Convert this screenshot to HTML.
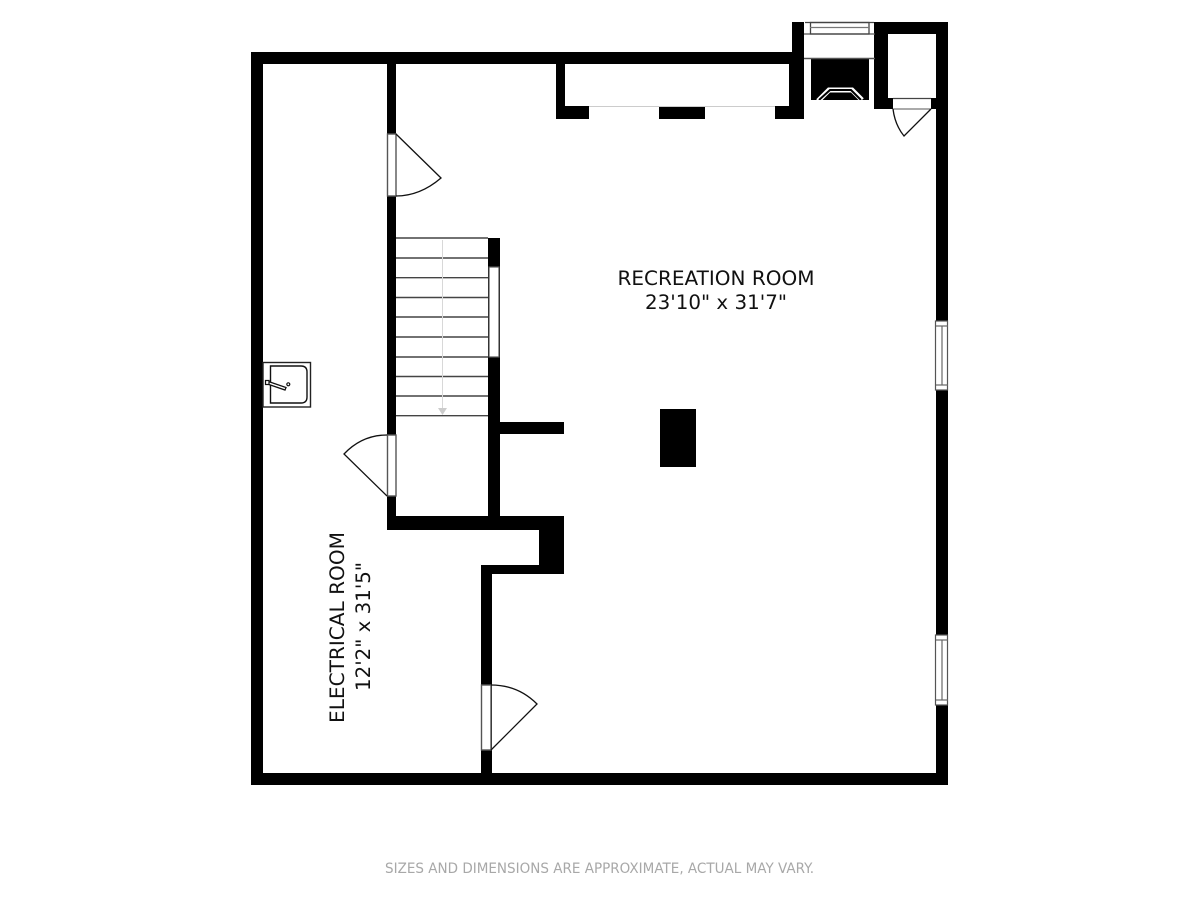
<!DOCTYPE html>
<html><head><meta charset="utf-8"><style>html,body{margin:0;padding:0;background:#fff}svg{display:block}text{font-family:"DejaVu Sans",sans-serif;fill:#111}</style></head><body>
<svg width="1200" height="900" viewBox="0 0 1200 900" xmlns="http://www.w3.org/2000/svg">
<rect width="1200" height="900" fill="#fff"/>
<!-- walls -->
<g fill="#000">
<rect x="251" y="52" width="12" height="733"/>
<rect x="251" y="773" width="697" height="12"/>
<rect x="251" y="52" width="553" height="12"/>
<rect x="936" y="22" width="12" height="763"/>
<rect x="792" y="22" width="12" height="40"/>
<rect x="874" y="22" width="74" height="12"/>
<rect x="874" y="22" width="14" height="87"/>
<rect x="888" y="98" width="5" height="11"/>
<rect x="931" y="98" width="17" height="11"/>
<rect x="789" y="52" width="15" height="67"/>
<rect x="556" y="52" width="9" height="67"/>
<rect x="556" y="106" width="33" height="13"/>
<rect x="659" y="106" width="46" height="13"/>
<rect x="775" y="106" width="29" height="13"/>
<rect x="387" y="52" width="9" height="478"/>
<rect x="488" y="238" width="12" height="292"/>
<rect x="500" y="422" width="64" height="12"/>
<rect x="387" y="516" width="177" height="14"/>
<rect x="539" y="516" width="25" height="58"/>
<rect x="481" y="565" width="83" height="9"/>
<rect x="481" y="565" width="11" height="220"/>
<rect x="660" y="409" width="36" height="58"/>
<rect x="811" y="59" width="58" height="41"/>
</g>
<!-- firebox detail -->
<polyline points="818,101 829,90 852,90 862,100" fill="none" stroke="#fff" stroke-width="5"/>
<polyline points="819,100 830,90 851,90 861,100" fill="none" stroke="#000" stroke-width="2"/>
<rect x="811" y="100" width="60" height="2" fill="#fff"/>
<!-- thin niche line -->
<line x1="589" y1="106.5" x2="775" y2="106.5" stroke="#ccc" stroke-width="1"/>
<!-- fireplace hearth and top window -->
<rect x="804" y="22" width="70" height="12" fill="#fff"/>
<rect x="804" y="34" width="70" height="25" fill="#fff"/>
<line x1="804" y1="58.5" x2="875" y2="58.5" stroke="#555" stroke-width="1.5"/>
<line x1="804" y1="34" x2="875" y2="34" stroke="#555" stroke-width="1.3"/>
<rect x="810.5" y="22.5" width="58.5" height="11.5" fill="none" stroke="#444" stroke-width="1.3"/>
<line x1="810" y1="27.5" x2="869" y2="27.5" stroke="#777" stroke-width="1.2"/>
<line x1="805" y1="22.5" x2="874" y2="22.5" stroke="#444" stroke-width="1.2"/>
<!-- closet door -->
<rect x="893" y="98" width="38" height="11" fill="#fff"/>
<line x1="893" y1="98.5" x2="931" y2="98.5" stroke="#444" stroke-width="1.3"/>
<line x1="893" y1="109" x2="931" y2="109" stroke="#555" stroke-width="1"/>
<path d="M893,109 Q895,125 904,136 L931,109" fill="none" stroke="#111" stroke-width="1.3"/>
<!-- stairs -->
<g stroke="#444" stroke-width="1.4">
<line x1="396" y1="238" x2="488" y2="238"/><line x1="396" y1="258" x2="488" y2="258"/><line x1="396" y1="277.7" x2="488" y2="277.7"/><line x1="396" y1="297.5" x2="488" y2="297.5"/><line x1="396" y1="317" x2="488" y2="317"/><line x1="396" y1="337" x2="488" y2="337"/><line x1="396" y1="357" x2="488" y2="357"/><line x1="396" y1="376.5" x2="488" y2="376.5"/><line x1="396" y1="396" x2="488" y2="396"/><line x1="396" y1="415.7" x2="488" y2="415.7"/>
</g>
<line x1="442.5" y1="240" x2="442.5" y2="410" stroke="#d8d8d8" stroke-width="1"/>
<polygon points="438,408 447,408 442.5,415" fill="#ccc"/>
<!-- stair window -->
<rect x="489" y="267" width="10" height="90" fill="#fff" stroke="#555" stroke-width="1.2"/>
<!-- doors -->
<rect x="387.5" y="134" width="8.5" height="62" fill="#fff" stroke="#555" stroke-width="1.4"/>
<path d="M396,134 L441,178 Q420,196 396,196" fill="none" stroke="#111" stroke-width="1.3"/>
<rect x="387.5" y="435" width="8.5" height="61" fill="#fff" stroke="#555" stroke-width="1.4"/>
<path d="M387,496 L344,454 Q362,435 387,435" fill="none" stroke="#111" stroke-width="1.3"/>
<rect x="481.5" y="685" width="9.5" height="65" fill="#fff" stroke="#555" stroke-width="1.4"/>
<path d="M491,750 L537,704 Q518,685 491,685" fill="none" stroke="#111" stroke-width="1.3"/>
<!-- right windows -->
<g fill="#fff" stroke="#555" stroke-width="1.2">
<rect x="935.5" y="321" width="12" height="69"/>
<rect x="935.5" y="635" width="12" height="70"/>
</g>
<g stroke="#666" stroke-width="1.2">
<line x1="942" y1="326" x2="942" y2="385"/><line x1="936" y1="326" x2="948" y2="326"/><line x1="936" y1="385" x2="948" y2="385"/>
<line x1="942" y1="640" x2="942" y2="700"/><line x1="936" y1="640" x2="948" y2="640"/><line x1="936" y1="700" x2="948" y2="700"/>
</g>
<!-- sink -->
<rect x="263" y="362.5" width="47.5" height="44.5" fill="#fff" stroke="#222" stroke-width="1.4"/>
<path d="M270.5,366 H301 Q307,366 307,372 V397 Q307,403 301,403 H270.5 Z" fill="none" stroke="#111" stroke-width="1.4"/>
<polygon points="267,381 286,387.5 285,390 266,383.5" fill="#fff" stroke="#111" stroke-width="1.3"/>
<rect x="265.5" y="380.5" width="3.5" height="4" fill="#fff" stroke="#111" stroke-width="1.2"/>
<circle cx="288.3" cy="384.3" r="1.5" fill="#fff" stroke="#111" stroke-width="1.2"/>
<!-- labels -->
<text x="716" y="285" font-size="19.5" text-anchor="middle" textLength="197" lengthAdjust="spacingAndGlyphs">RECREATION ROOM</text>
<text x="716" y="309" font-size="19.5" text-anchor="middle" textLength="142" lengthAdjust="spacingAndGlyphs">23'10" x 31'7"</text>
<text transform="translate(344,723) rotate(-90)" font-size="19.5" textLength="191" lengthAdjust="spacingAndGlyphs">ELECTRICAL ROOM</text>
<text transform="translate(370,691) rotate(-90)" font-size="19.5" textLength="129" lengthAdjust="spacingAndGlyphs">12'2" x 31'5"</text>
<text x="385" y="873" font-size="14.5" style="fill:#a8a8a8" textLength="429" lengthAdjust="spacingAndGlyphs">SIZES AND DIMENSIONS ARE APPROXIMATE, ACTUAL MAY VARY.</text>
</svg>
</body></html>
